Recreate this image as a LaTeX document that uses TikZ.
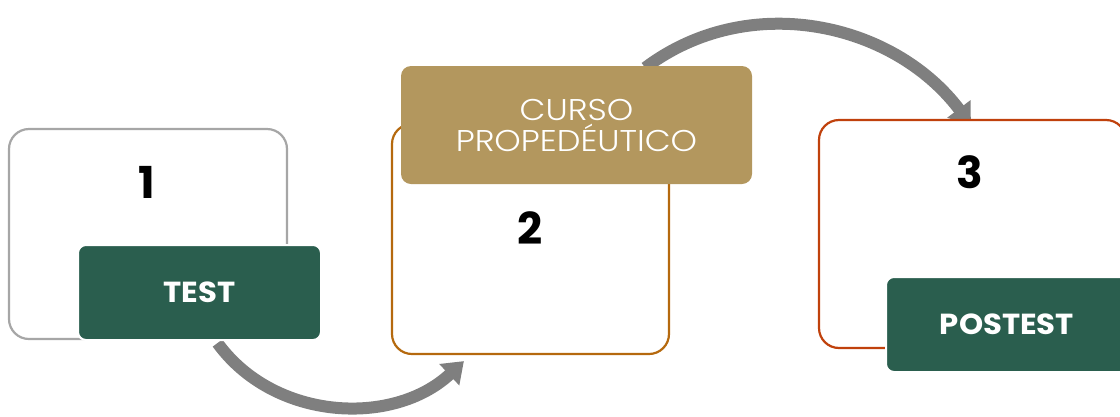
\documentclass[tikz,border=0pt]{standalone}
\usepackage{fontspec}
\setmainfont{Poppins}
\newfontfamily\lightfont{Poppins Light}[FakeStretch=1.12]
\newfontfamily\tagfont{Poppins Bold}[FakeStretch=1.06]
\usetikzlibrary{arrows.meta,backgrounds}
\definecolor{boxgray}{HTML}{A6A6A6}
\definecolor{boxbrown}{HTML}{B5690E}
\definecolor{boxred}{HTML}{C0410C}
\definecolor{darkgreen}{HTML}{2A5E4E}
\definecolor{goldfill}{HTML}{B3975E}
\definecolor{arrowgray}{HTML}{7F7F7F}
\begin{document}
\begin{tikzpicture}[x=1pt,y=-1pt,
  stage/.style={draw, line width=2.2pt, fill=white, rounded corners=20pt, inner sep=0pt},
  digit/.style={font=\bfseries\fontsize{44}{44}\selectfont, text=black, inner sep=0pt},
  tag/.style={fill=darkgreen, draw=white, line width=2pt, rounded corners=8pt, text=white,
    font=\tagfont\fontsize{29}{30}\selectfont, inner sep=0pt},
  goldbox/.style={fill=goldfill, draw=none, rounded corners=10pt, text=white, align=center,
    font=\lightfont\fontsize{30}{31}\selectfont, inner sep=0pt},
  flow/.style={draw=arrowgray, line width=12pt, -{Triangle[length=20pt,width=28pt]}}
]
\useasboundingbox (0,0) rectangle (1120,416);
\clip (0,0) rectangle (1120,416);

\node[stage, draw=boxgray, minimum width=278pt, minimum height=210pt] (b1) at (148,234) {};
\node[digit] (n1) at (147,182) {1};
\node[tag, minimum width=243pt, minimum height=95pt] (test) at (199.5,292.5) {TEST};

\node[stage, draw=boxbrown, minimum width=277pt, minimum height=230pt] (b2) at (530.5,239) {};
\node[digit] (n2) at (530,228) {2};
\node[goldbox, minimum width=351pt, minimum height=118pt] (curso) at (576.5,125) {CURSO\\PROPEDÉUTICO};

\node[stage, draw=boxred, minimum width=307pt, minimum height=228pt] (b3) at (972.5,234) {};
\node[digit] (n3) at (970,172) {3};
\node[tag, minimum width=242pt, minimum height=95pt] (post) at (1007,324.5) {POSTEST};

\begin{pgfonlayer}{background}
\draw[flow] ([xshift=18pt,yshift=-2pt]test.south) to[out=-54,in=-137] ([xshift=73pt,yshift=-6pt]b2.south west);
\draw[flow] ([xshift=-107pt,yshift=-2pt]curso.north east) to[out=37,in=127] ([xshift=153pt,yshift=-6pt]b3.north west);
\end{pgfonlayer}
\end{tikzpicture}
\end{document}
